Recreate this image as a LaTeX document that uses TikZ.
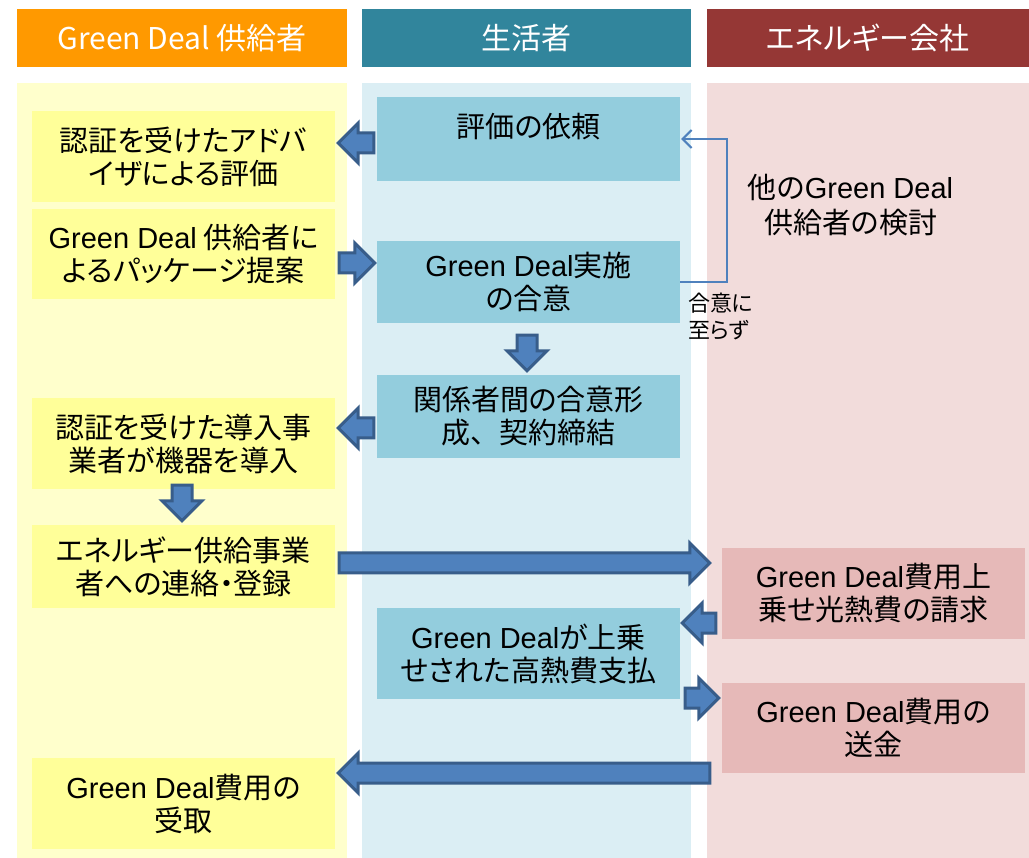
\documentclass[tikz,border=0pt]{standalone}
\usepackage{fontspec}
\setmainfont{Noto Sans CJK JP}[RawFeature=+palt]
\newfontfamily\latfont{Liberation Sans}
\newfontfamily\jpfull{Noto Sans CJK JP}
\newcommand\GD{{\latfont Green Deal}}
\newcommand\boxfont{\fontsize{29}{33}\selectfont}
\newcommand\hdrfont{\fontsize{30}{33}\selectfont}
\usetikzlibrary{calc,arrows.meta}
\definecolor{hdrA}{HTML}{FF9900}
\definecolor{hdrB}{HTML}{31859C}
\definecolor{hdrC}{HTML}{953735}
\definecolor{colA}{HTML}{FFFFCC}
\definecolor{colB}{HTML}{DBEEF4}
\definecolor{colC}{HTML}{F2DCDB}
\definecolor{boxA}{HTML}{FFFF99}
\definecolor{boxB}{HTML}{93CDDD}
\definecolor{boxC}{HTML}{E6B9B8}
\definecolor{arrfill}{HTML}{4F81BD}
\definecolor{arrline}{HTML}{385D8A}
\tikzset{
  hdr/.style={minimum height=58pt, inner sep=0pt, text=white, font=\hdrfont},
  col/.style={minimum height=775pt, inner sep=0pt},
  box/.style={minimum width=303pt, inner sep=0pt, align=center, font=\boxfont},
  fatarrow/.style={fill=arrfill, draw=arrline, line width=3pt, line join=miter},
  fb/.style={draw=arrfill, line width=2pt, -{Straight Barb[length=9pt,width=18pt,line width=2pt]}}
}
\newcommand\fatarrow[2]{%
  \coordinate (fa-s) at (#1);
  \coordinate (fa-t) at (#2);
  \coordinate (fa-h) at ($(fa-t)!20pt!(fa-s)$);
  \filldraw[fatarrow] ($(fa-s)!10pt!90:(fa-t)$) -- ($(fa-h)!10pt!90:(fa-t)$)
    -- ($(fa-h)!20pt!90:(fa-t)$) -- (fa-t) -- ($(fa-h)!20pt!-90:(fa-t)$)
    -- ($(fa-h)!10pt!-90:(fa-t)$) -- ($(fa-s)!10pt!-90:(fa-t)$) -- cycle;
}
\begin{document}
\begin{tikzpicture}[x=1pt,y=-1pt]
\useasboundingbox (0,0) rectangle (1029,858);
% headers
\node[hdr, fill=hdrA, minimum width=330pt] (h1) at (182,38) {Green Deal 供給者};
\node[hdr, fill=hdrB, minimum width=329pt] (h2) at (526.5,38) {生活者};
\node[hdr, fill=hdrC, minimum width=322pt] (h3) at (868,38) {エネルギー会社};
% columns
\node[col, fill=colA, minimum width=330pt] (c1) at (182,470.5) {};
\node[col, fill=colB, minimum width=329pt] (c2) at (526.5,470.5) {};
\node[col, fill=colC, minimum width=322pt] (c3) at (868,470.5) {};
% supplier boxes
\node[box, fill=boxA, minimum height=91pt] (y1) at (183.5,156.5) {認証を受けたアドバ\\イザによる評価};
\node[box, fill=boxA, minimum height=90pt] (y2) at (183.5,254) {\GD\ 供給者に\\よるパッケージ提案};
\node[box, fill=boxA, minimum height=91pt] (y3) at (183.5,443.5) {認証を受けた導入事\\業者が機器を導入};
\node[box, fill=boxA, minimum height=83pt] (y4) at (183.5,566.5) {エネルギー供給事業\\者への連絡・登録};
\node[box, fill=boxA, minimum height=91pt] (y5) at (183.5,803.5) {\GD 費用の\\受取};
% consumer boxes
\node[box, fill=boxB, minimum height=84pt, text height=24pt, text depth=27pt] (b1) at (528.5,139) {評価の依頼};
\node[box, fill=boxB, minimum height=82pt] (b2) at (528.5,282) {\GD 実施\\の合意};
\node[box, fill=boxB, minimum height=83pt] (b3) at (528.5,416.5) {関係者間の合意形\\成{\jpfull 、}契約締結};
\node[box, fill=boxB, minimum height=91pt] (b4) at (528.5,653.5) {\GD が上乗\\せされた高熱費支払};
% energy company boxes
\node[box, fill=boxC, minimum height=91pt] (p1) at (873.5,593.5) {\GD 費用上\\乗せ光熱費の請求};
\node[box, fill=boxC, minimum height=90pt] (p2) at (873.5,728) {\GD 費用の\\送金};
% block arrows
\fatarrow{$(b1.west)+(-3,4)$}{$(y1.east)+(3,-13.5)$}
\fatarrow{$(y2.east)+(4,9)$}{$(b2.west)+(-2,-19)$}
\fatarrow{$(b2.south)+(-1.5,12)$}{$(b3.north)+(-1.5,-4)$}
\fatarrow{$(b3.west)+(-3,11.5)$}{$(y3.east)+(3,-15.5)$}
\fatarrow{$(y3.south)+(-1.5,-4)$}{$(y4.north)+(-1.5,-4)$}
\fatarrow{$(y4.east)+(4,-3.5)$}{$(p1.west)+(-12,-30.5)$}
\fatarrow{$(p1.west)+(-6,29.5)$}{$(b4.east)+(2,-30.5)$}
\fatarrow{$(b4.east)+(5,44.5)$}{$(p2.west)+(-3,-30)$}
\fatarrow{$(p2.west)+(-12,45)$}{$(y5.east)+(3,-30.5)$}
% feedback loop
\draw[fb] (b2.east) -- ++(47,0) |- ($(b1.east)+(1,0)$);
\node[font=\fontsize{29}{35}\selectfont, align=center, inner sep=0pt] (l1) at (850.5,205.5) {他の\GD\\供給者の検討};
\node[font=\fontsize{22}{27}\selectfont, align=left, anchor=west, inner sep=0pt] (l2) at (688,316.5) {合意に\\至らず};
\end{tikzpicture}
\end{document}
